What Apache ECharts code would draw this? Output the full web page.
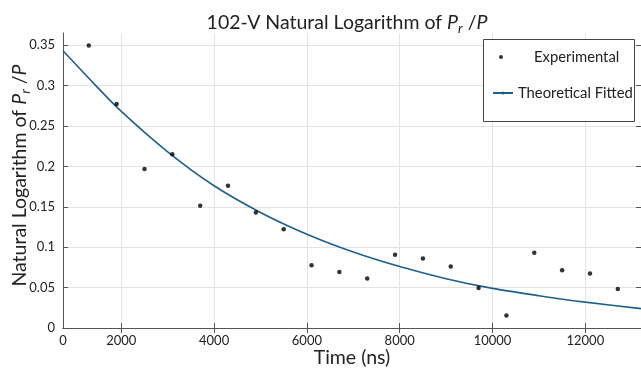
<!DOCTYPE html>
<html>
<head>
<meta charset="utf-8">
<script src="https://cdn.jsdelivr.net/npm/echarts@6/dist/echarts.min.js"></script>
<style>html,body{margin:0;padding:0;background:#fff}#c{width:641px;height:379px}</style>
</head>
<body>
<div id="c"></div>
<script>
// Experimental data (time in ns, ln(Pr/P))
const expTime = [1300,1900,2500,3100,3700,4300,4900,5500,6100,6700,7300,7900,8500,9100,9700,10300,10900,11500,12100,12700];
const expValue = [0.3495,0.2773,0.1967,0.2149,0.1512,0.1760,0.1430,0.1223,0.0777,0.0694,0.0612,0.0905,0.0860,0.0761,0.0496,0.0154,0.0930,0.0715,0.0674,0.0483];
// Theoretical fitted curve
const fitTime = [744,1400,2000,3000,4000,5000,6000,7000,8000,9000,10000,11000,12000,13200];
const fitValue = [0.343,0.303,0.268,0.218,0.176,0.143,0.116,0.094,0.076,0.061,0.049,0.040,0.032,0.024];
// Axis ticks
const xMin = 744, xMax = 13200;
const xTickValues = [2000,4000,6000,8000,10000,12000];
const xLabelValues = [xMin,2000,4000,6000,8000,10000,12000];
const xLabelTexts = ['0','2000','4000','6000','8000','10000','12000'];
const yTickValues = [0,0.05,0.1,0.15,0.2,0.25,0.3,0.35];
const yLabelTexts = ['0','0.05','0.1','0.15','0.2','0.25','0.3','0.35'];

const FONT = 'Lato';
const TXT = '#222';
const AX = '#555';
const GRIDC = '#e3e3e3';
const CURVE = '#1f5f8c';

const chart = echarts.init(document.getElementById('c'), null, {renderer:'canvas'});
const richName = {
  i:{fontStyle:'italic', fontSize:19.5, fontFamily:FONT, color:TXT},
  s:{fontStyle:'italic', fontSize:13.5, fontFamily:FONT, color:TXT, verticalAlign:'bottom', lineHeight:13}
};
chart.setOption({
  animation:false,
  backgroundColor:'#fff',
  title:{
    text:'102-V Natural Logarithm of {i|P}{s|r} /{i|P}',
    left:342, top:4, textAlign:'center',
    textStyle:{fontFamily:FONT, fontSize:19.5, fontWeight:'normal', color:TXT, lineHeight:27, rich:richName}
  },
  grid:{left:63, top:33, right:0, bottom:51, containLabel:false, outerBoundsMode:'none'},
  xAxis:[{
    type:'value', min:xMin, max:xMax, position:'bottom',
    name:'Time (ns)', nameLocation:'middle', nameGap:20, nameMoveOverlap:false,
    nameTextStyle:{fontFamily:FONT, fontSize:19.5, color:TXT},
    axisLine:{show:true, lineStyle:{color:AX, width:1}},
    axisTick:{show:true, inside:true, length:5, customValues:xTickValues, lineStyle:{color:AX}},
    axisLabel:{customValues:xLabelValues, showMinLabel:true, margin:6, fontFamily:FONT, fontSize:13, color:TXT,
      formatter:function(v){const k=xLabelValues.indexOf(v); return k>=0?xLabelTexts[k]:'';}},
    splitLine:{show:true, lineStyle:{color:GRIDC, width:1}}
  },{
    type:'value', min:xMin, max:xMax, position:'top',
    axisLine:{show:true, lineStyle:{color:AX, width:1}},
    axisTick:{show:true, inside:true, length:5, customValues:xTickValues, lineStyle:{color:AX}},
    axisLabel:{show:false}, splitLine:{show:false}
  }],
  yAxis:[{
    type:'value', min:0, max:0.365, position:'left',
    name:'Natural Logarithm of {i|P}{s|r} /{i|P}', nameLocation:'middle', nameGap:30, nameRotate:90, nameMoveOverlap:false,
    nameTextStyle:{fontFamily:FONT, fontSize:19.5, color:TXT, lineHeight:27, rich:richName, padding:[0,0,0,10]},
    axisLine:{show:true, lineStyle:{color:AX, width:1}},
    axisTick:{show:true, inside:true, length:5, customValues:yTickValues, lineStyle:{color:AX}},
    axisLabel:{customValues:yTickValues, margin:8, fontFamily:FONT, fontSize:13, color:TXT,
      formatter:function(v){const k=yTickValues.indexOf(v); return k>=0?yLabelTexts[k]:'';}},
    splitLine:{show:true, lineStyle:{color:GRIDC, width:1}}
  },{
    type:'value', min:0, max:0.365, position:'right',
    axisLine:{show:true, lineStyle:{color:AX, width:1}},
    axisTick:{show:true, inside:true, length:5, customValues:yTickValues, lineStyle:{color:AX}},
    axisLabel:{show:false}, splitLine:{show:false}
  }],
  graphic:[{
    type:'rect', left:483, top:39, z:3,
    shape:{width:151, height:82},
    style:{fill:'#fff', stroke:'#444', lineWidth:1}
  }],
  legend:[{
    data:['Experimental'], orient:'vertical', left:499, top:48, padding:0, z:5,
    itemWidth:8, itemHeight:4,
    textStyle:{fontFamily:FONT, fontSize:14.8, color:TXT, lineHeight:18, padding:[0,0,0,24]}
  },{
    data:['Theoretical Fitted'], orient:'vertical', left:492, top:84, padding:0, z:5,
    itemWidth:20, itemHeight:4,
    textStyle:{fontFamily:FONT, fontSize:14.8, color:TXT, lineHeight:18}
  }],
  series:[{
    name:'Theoretical Fitted', type:'line', smooth:0.3, symbol:'none',
    data:fitTime.map((t,i)=>[t,fitValue[i]]),
    lineStyle:{color:CURVE, width:1.6}, itemStyle:{color:CURVE}, z:2
  },{
    name:'Experimental', type:'scatter', symbol:'circle', symbolSize:4.5,
    data:expTime.map((t,i)=>[t,expValue[i]]),
    itemStyle:{color:'#000'}, z:3
  }]
});
</script>
</body>
</html>
